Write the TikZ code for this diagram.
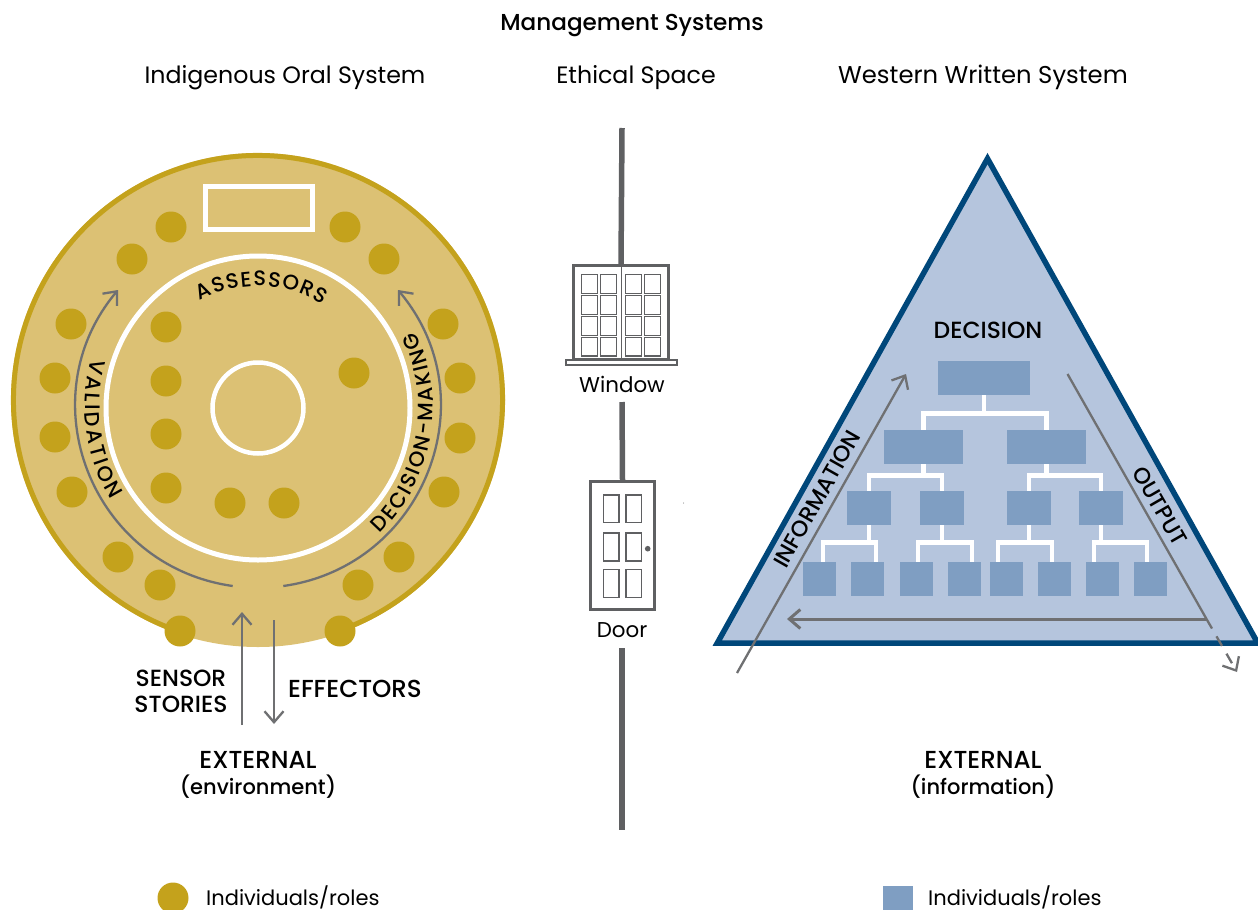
\documentclass[tikz,border=0pt]{standalone}
\usepackage{fontspec}
\setmainfont{Poppins}
\newfontfamily\medfont{Poppins Medium}
\usetikzlibrary{calc}
\usetikzlibrary{arrows.meta}
\usetikzlibrary{decorations.text}

\definecolor{ringfill}{HTML}{DCC174}
\definecolor{gold}{HTML}{C4A21C}
\definecolor{trifill}{HTML}{B5C5DD}
\definecolor{triline}{HTML}{00477A}
\definecolor{boxblue}{HTML}{7F9EC2}
\definecolor{arrowgrey}{HTML}{6F7072}
\definecolor{polegrey}{HTML}{5F6062}
\newcommand{\headsize}{\fontsize{23.7}{26}\selectfont}
\newcommand{\labelsize}{\fontsize{21.4}{26}\selectfont}
\newcommand{\tagsize}{\medfont\fontsize{23.4}{26}\selectfont}
\newcommand{\bigtagsize}{\medfont\fontsize{24.6}{26}\selectfont}
\newcommand{\smalltagsize}{\medfont\fontsize{21}{26}\selectfont}

\tikzset{
  indiv/.style={circle,fill=gold,minimum size=31pt,inner sep=0pt},
  orgbox/.style={rectangle,fill=boxblue,inner sep=0pt,minimum height=34pt},
  head/.style={inner sep=0pt,font=\headsize},
  lab/.style={inner sep=0pt,font=\labelsize},
  tag/.style={inner sep=0pt,align=center,font=\tagsize},
  flow/.style={draw=arrowgrey,line width=2.3pt,->},
  branch/.style={draw=white,line width=4.6pt},
  pole/.style={draw=polegrey,line width=5.5pt},
  frameline/.style={draw=polegrey,line width=2.6pt,fill=white},
  pane/.style={draw=polegrey,line width=1.5pt},
  curvetext/.style={decorate,decoration={text along path,text align=fit to path}}
}

\begin{document}
\begin{tikzpicture}[x=1pt,y=1pt,>={Straight Barb[length=11pt,width=19pt]}]
\useasboundingbox (0,0) rectangle (1258,-910);

\node [inner sep=0pt,font=\medfont\fontsize{23.1}{26}\selectfont] at (632,-26) (title) {Management Systems};
\node [head] at (285,-77.5) (oralhead) {Indigenous Oral System};
\node [head] at (636,-77.5) (ethhead) {Ethical Space};
\node [head,font=\fontsize{24.3}{26}\selectfont] at (983,-77.5) (westhead) {Western Written System};

\coordinate (ringc) at (258,-400);
\coordinate (innerc) at (258,-408);

\fill [ringfill] (ringc) circle (247pt);
\draw [gold,line width=5pt] ($(ringc)+(-70.5:244.5)$) arc [start angle=-70.5,end angle=251,radius=244.5pt];
\draw [white,line width=5pt] (innerc) circle (152pt);
\draw [white,line width=4.5pt] (innerc) circle (45.5pt);
\draw [white,line width=5pt] (205.5,-186.5) rectangle (312.5,-229.5);

\node [indiv] at (171,-227) (ol1) {};
\node [indiv] at (132,-259) (ol2) {};
\node [indiv] at (71,-324) (ol3) {};
\node [indiv] at (55,-378) (ol4) {};
\node [indiv] at (55,-437) (ol5) {};
\node [indiv] at (72,-492) (ol6) {};
\node [indiv] at (118,-557) (ol7) {};
\node [indiv] at (160,-585) (ol8) {};
\node [indiv] at (180,-631) (ol9) {};
\node [indiv] at (345,-227) (or1) {};
\node [indiv] at (384,-259) (or2) {};
\node [indiv] at (443,-324) (or3) {};
\node [indiv] at (460,-378) (or4) {};
\node [indiv] at (460,-438) (or5) {};
\node [indiv] at (444,-492) (or6) {};
\node [indiv] at (399,-557) (or7) {};
\node [indiv] at (358,-585) (or8) {};
\node [indiv] at (340,-631) (or9) {};

\node [indiv] at (166,-327) (in1) {};
\node [indiv] at (166,-381) (in2) {};
\node [indiv] at (166,-434) (in3) {};
\node [indiv] at (166,-488) (in4) {};
\node [indiv] at (230,-503) (in5) {};
\node [indiv] at (284,-503) (in6) {};
\node [indiv] at (354,-373) (in7) {};

\coordinate (valstart) at (232.7,-586);
\coordinate (valend) at (118,-290);
\coordinate (decstart) at (283.3,-586);
\coordinate (decend) at (398,-290);
\draw [flow] (valstart) to [out=172,in=230,looseness=1.147] (valend);
\draw [flow] (decstart) to [out=8,in=310,looseness=1.147] (decend);

\path [curvetext,decoration={text={|\smalltagsize|VALIDATION}}] ($(innerc)+(163.5:173)$) arc [start angle=163.5,end angle=212,radius=173pt];
\path [curvetext,decoration={text={|\smalltagsize|DECISION-MAKING}}] ($(innerc)+(-46:175)$) arc [start angle=-46,end angle=26,radius=175pt];
\path [curvetext,decoration={text={|\smalltagsize|ASSESSORS}}] ($(innerc)+(118.5:122)$) arc [start angle=118.5,end angle=58,radius=122pt];

\coordinate (sensorstart) at (242,-725);
\coordinate (sensorend) at (242,-612);
\coordinate (effstart) at (274,-620);
\coordinate (effend) at (274,-724);
\draw [flow] (sensorstart) -- (sensorend);
\draw [flow] (effstart) -- (effend);

\node [tag] at (181,-691) (sensor) {SENSOR\\STORIES};
\node [tag,font=\bigtagsize] at (355,-689) (effectors) {EFFECTORS};
\node [tag,font=\bigtagsize] at (258,-775) (extenv) {EXTERNAL\\{\smalltagsize(environment)}};

\coordinate (poletop) at (622,-128);
\coordinate (polemid) at (622,-402);
\coordinate (polelow) at (622,-648);
\coordinate (polebot) at (622,-830);

\node [frameline,minimum width=95pt,minimum height=94pt,inner sep=0pt] at (621,-312.5) (window) {};
\node [frameline,minimum width=64pt,minimum height=128pt,inner sep=0pt] at (622.5,-545.5) (door) {};
\draw [pole] (poletop) -- (window.north);
\draw [pole] (polemid) -- (door.north);
\draw [pole] (polelow) -- (polebot);

\draw [draw=polegrey,line width=1pt] (window.north) -- (window.south);
\draw [frameline,line width=2pt] (566,-360) rectangle (677,-364.5);
\draw [pane] (581.7,-274.3) rectangle (597.7,-293.3);
\draw [pane] (600.7,-274.3) rectangle (616.7,-293.3);
\draw [pane] (625.7,-274.3) rectangle (641.7,-293.3);
\draw [pane] (644.7,-274.3) rectangle (660.7,-293.3);
\draw [pane] (581.7,-295.3) rectangle (597.7,-314.3);
\draw [pane] (600.7,-295.3) rectangle (616.7,-314.3);
\draw [pane] (625.7,-295.3) rectangle (641.7,-314.3);
\draw [pane] (644.7,-295.3) rectangle (660.7,-314.3);
\draw [pane] (581.7,-316.3) rectangle (597.7,-335.3);
\draw [pane] (600.7,-316.3) rectangle (616.7,-335.3);
\draw [pane] (625.7,-316.3) rectangle (641.7,-335.3);
\draw [pane] (644.7,-316.3) rectangle (660.7,-335.3);
\draw [pane] (581.7,-337.3) rectangle (597.7,-356);
\draw [pane] (600.7,-337.3) rectangle (616.7,-356);
\draw [pane] (625.7,-337.3) rectangle (641.7,-356);
\draw [pane] (644.7,-337.3) rectangle (660.7,-356);

\draw [pane] (603.3,-495) rectangle (619,-522.7);
\draw [pane] (626,-495) rectangle (641.7,-522.7);
\draw [pane] (603.3,-533) rectangle (619,-561);
\draw [pane] (626,-533) rectangle (641.7,-561);
\draw [pane] (603.3,-569.3) rectangle (619,-597.3);
\draw [pane] (626,-569.3) rectangle (641.7,-597.3);
\fill [polegrey] (647.7,-548.7) circle (2.8pt);
\fill [polegrey] (683.5,-503) circle (0.5pt);

\node [lab] at (622,-384) (windowlabel) {Window};
\node [lab] at (622,-630) (doorlabel) {Door};

\draw [fill=trifill,draw=triline,line width=5.5pt,miter limit=10] (987.5,-158.6) -- (1257.7,-643) -- (717.3,-643) -- cycle;

\node [tag] at (988,-330) (decision) {DECISION};

\node [orgbox,minimum width=92pt] at (984,-378) (b0) {};
\node [orgbox,minimum width=79pt] at (923.5,-447) (b1) {};
\node [orgbox,minimum width=79pt] at (1046.5,-447) (b2) {};
\node [orgbox,minimum width=44pt] at (869,-508) (c1) {};
\node [orgbox,minimum width=44pt] at (942,-508) (c2) {};
\node [orgbox,minimum width=44pt] at (1029,-508) (c3) {};
\node [orgbox,minimum width=44pt] at (1101,-508) (c4) {};
\node [orgbox,minimum width=33pt] at (819.5,-579) (d1) {};
\node [orgbox,minimum width=33pt] at (867.5,-579) (d2) {};
\node [orgbox,minimum width=33pt] at (916.5,-579) (d3) {};
\node [orgbox,minimum width=33pt] at (964.5,-579) (d4) {};
\node [orgbox,minimum width=33pt] at (1006.5,-579) (d5) {};
\node [orgbox,minimum width=33pt] at (1054.5,-579) (d6) {};
\node [orgbox,minimum width=33pt] at (1102.5,-579) (d7) {};
\node [orgbox,minimum width=33pt] at (1150.5,-579) (d8) {};

\draw [branch] (b0.south) -- ++(0,-18.5) -| (b1.north);
\draw [branch] (b0.south) -- ++(0,-18.5) -| (b2.north);
\draw [branch] (b1.south) -- ++(0,-11.5) -| (c1.north);
\draw [branch] (b1.south) -- ++(0,-11.5) -| (c2.north);
\draw [branch] (b2.south) -- ++(0,-11.5) -| (c3.north);
\draw [branch] (b2.south) -- ++(0,-11.5) -| (c4.north);
\draw [branch] (c1.south) -- ++(0,-17.5) -| ([xshift=3.5pt]d1.north);
\draw [branch] (c1.south) -- ++(0,-17.5) -| ([xshift=8.5pt]d2.north);
\draw [branch] (c2.south) -- ++(0,-17.5) -| ([xshift=1.5pt]d3.north);
\draw [branch] (c2.south) -- ++(0,-17.5) -| ([xshift=7.5pt]d4.north);
\draw [branch] (c3.south) -- ++(0,-17.5) -| ([xshift=-8.5pt]d5.north);
\draw [branch] (c3.south) -- ++(0,-17.5) -| ([xshift=-2.5pt]d6.north);
\draw [branch] (c4.south) -- ++(0,-17.5) -| ([xshift=-8.5pt]d7.north);
\draw [branch] (c4.south) -- ++(0,-17.5) -| ([xshift=-3.5pt]d8.north);

\coordinate (infostart) at (737,-673);
\coordinate (infoend) at (906,-374);
\coordinate (outstart) at (1067.5,-374);
\coordinate (outcorner) at (1206.5,-619);
\coordinate (outend) at (787,-619);
\coordinate (dashend) at (1237,-672);
\draw [flow] (infostart) -- (infoend);
\draw [draw=arrowgrey,line width=2.3pt] (outstart) -- (outcorner);
\draw [flow,line width=3pt] (outcorner) -- (outend);
\draw [flow,dash pattern=on 11pt off 9pt] (outcorner) -- (dashend);

\node [inner sep=0pt,font=\medfont\fontsize{22.5}{26}\selectfont,rotate=60.5] at (817,-499) (information) {INFORMATION};
\node [inner sep=0pt,font=\medfont\fontsize{22.5}{26}\selectfont,rotate=-60] at (1160,-506) (output) {OUTPUT};
\node [tag,font=\bigtagsize] at (983,-775) (extinfo) {EXTERNAL\\{\smalltagsize(information)}};

\node [indiv] at (173,-898) (legenddot) {};
\node [lab,font=\fontsize{21}{26}\selectfont,anchor=west] at (206,-897) (legendl) {Individuals/roles};
\node [orgbox,minimum width=30pt,minimum height=24pt] at (898,-898) (legendbox) {};
\node [lab,font=\fontsize{21}{26}\selectfont,anchor=west] at (928,-897) (legendr) {Individuals/roles};
\end{tikzpicture}
\end{document}
